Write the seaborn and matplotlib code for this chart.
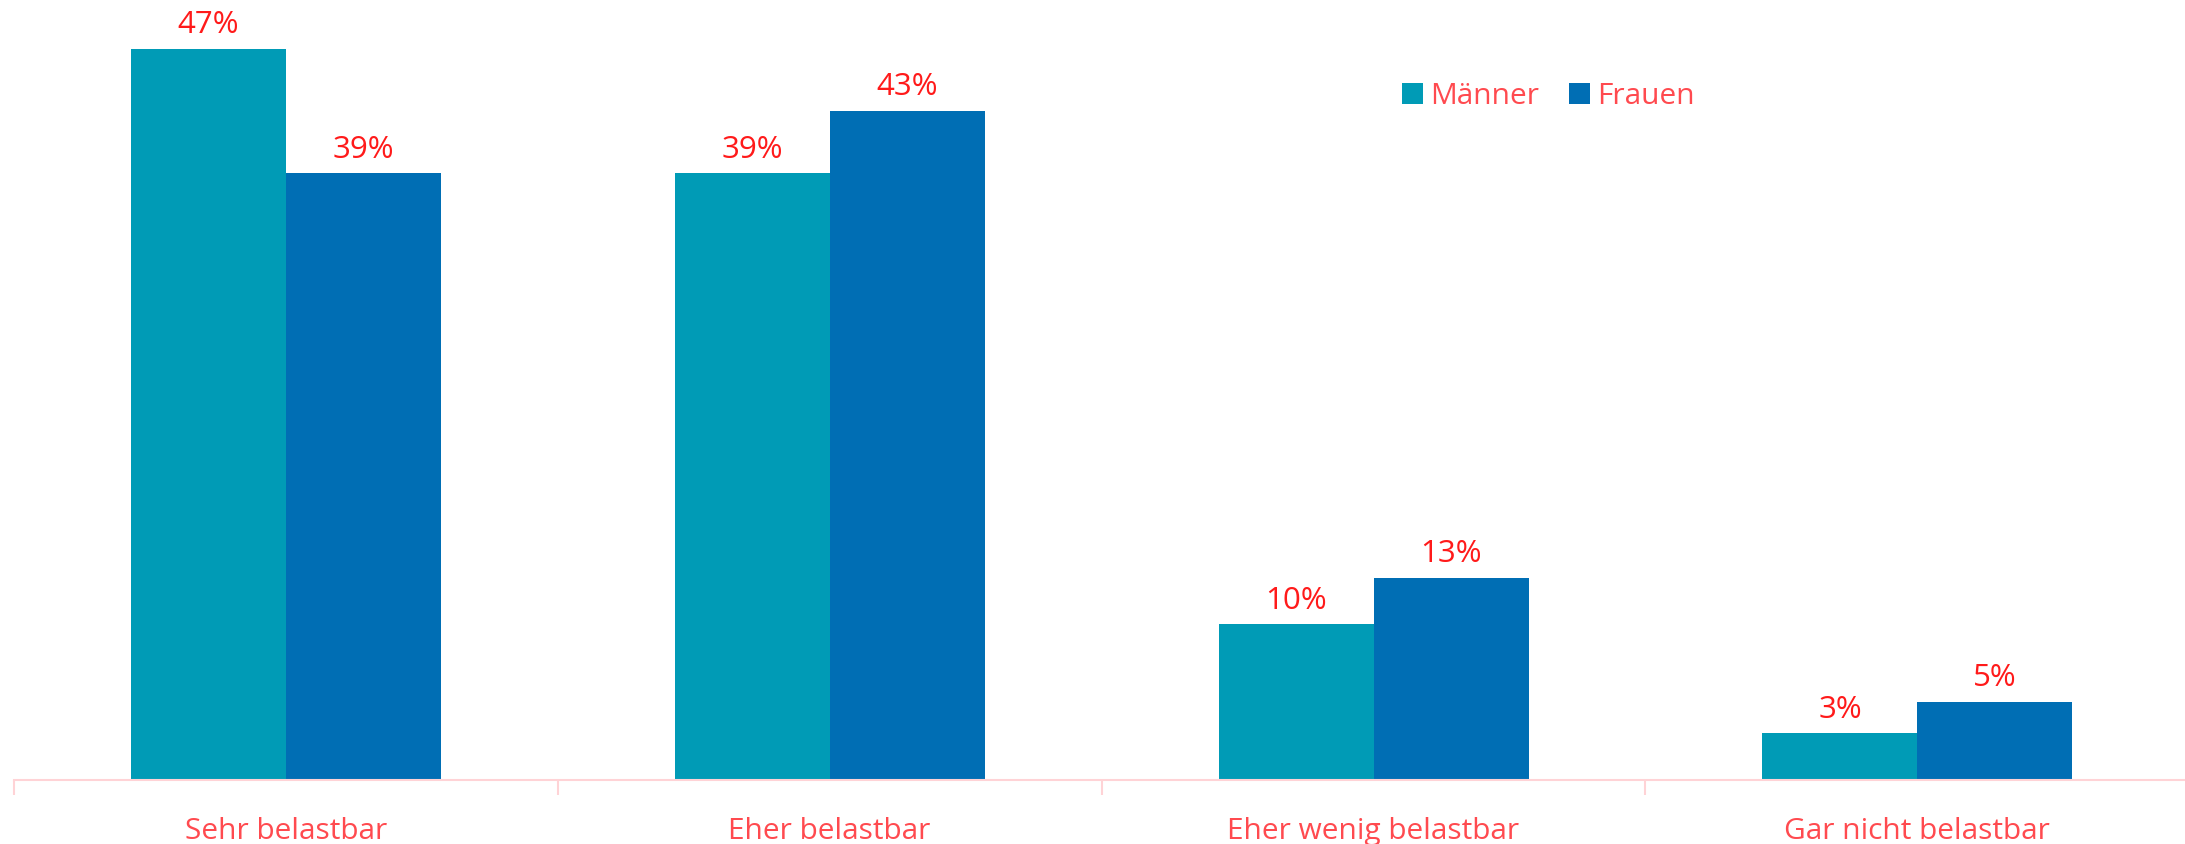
import matplotlib
matplotlib.use("Agg")
import matplotlib.pyplot as plt
from matplotlib.patches import Patch
import seaborn as sns
import pandas as pd

categories = ["Sehr belastbar", "Eher belastbar", "Eher wenig belastbar", "Gar nicht belastbar"]
groups = ["Männer", "Frauen"]
maenner = [47, 39, 10, 3]
frauen = [39, 43, 13, 5]

colors = {"Männer": "#009BB6", "Frauen": "#006EB4"}
value_red = "#FF1A1A"
text_red = "#FF4A4F"
axis_pink = "#FFD3D6"

df = pd.DataFrame({
    "Kategorie": categories * 2,
    "Gruppe": ["Männer"] * len(categories) + ["Frauen"] * len(categories),
    "Anteil": maenner + frauen,
})

sns.set_theme(style="white")
plt.rcParams["font.family"] = ["Open Sans", "DejaVu Sans"]

fig = plt.figure(figsize=(21.85, 8.45), dpi=100)
ax = fig.add_axes([0.0063, 1 - 781 / 845, 0.9957, 781 / 845])

sns.barplot(data=df, x="Kategorie", y="Anteil", hue="Gruppe", order=categories,
            hue_order=groups, palette=colors, width=0.57, gap=0, saturation=1,
            edgecolor="none", linewidth=0, legend=False, ax=ax)

ax.set_xlim(-0.5, 3.5)
ax.set_ylim(0, 50.2)

for cont, vals in zip(ax.containers, [maenner, frauen]):
    ax.bar_label(cont, labels=[f"{v}%" for v in vals], padding=7,
                 color=value_red, fontsize=22.5)

for side in ["top", "right", "left"]:
    ax.spines[side].set_visible(False)
ax.spines["bottom"].set_color(axis_pink)
ax.spines["bottom"].set_linewidth(1.5)

ax.set_yticks([])
ax.set_xlabel("")
ax.set_ylabel("")
ax.set_xticks(range(len(categories)))
ax.set_xticklabels(categories, color=text_red, fontsize=21.5)
ax.tick_params(axis="x", which="major", bottom=False, length=0, pad=26)
ax.set_xticks([i - 0.5 for i in range(len(categories))], minor=True)
ax.tick_params(axis="x", which="minor", bottom=True, length=11, width=1.5, color=axis_pink)

handles = [Patch(facecolor=colors[g], edgecolor="none") for g in groups]
leg = fig.legend(handles, groups, loc="center left", bbox_to_anchor=(1390 / 2185, 1 - 97 / 845),
                 ncol=2, frameon=False, fontsize=21.5, handlelength=0.7, handleheight=0.7,
                 handletextpad=0.25, columnspacing=1.0, borderaxespad=0)
for t in leg.get_texts():
    t.set_color(text_red)

fig.savefig("out.png", dpi=100, facecolor="white")
